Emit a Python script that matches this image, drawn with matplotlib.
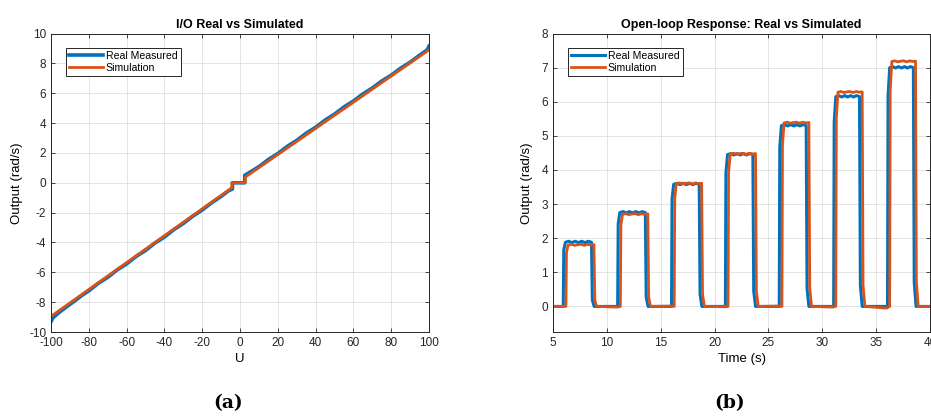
import numpy as np
import matplotlib.pyplot as plt

plt.rcParams['font.family'] = ['Liberation Sans', 'DejaVu Sans']
plt.rcParams['axes.unicode_minus'] = False

blue = '#0072BD'
orange = '#D95319'

# (a) 输入-输出特性
real_u = [-100, -99, -96, -92, -88, -84, -80, -75, -70, -65, -60, -55, -50, -45,
          -40, -35, -30, -25, -20, -15, -10, -6, -4, -4, 2.5, 2.5, 6, 10, 15, 20,
          25, 30, 35, 40, 45, 50, 55, 60, 65, 70, 75, 80, 85, 90, 95, 99, 100]
real_y = [-9.3, -9.05, -8.72, -8.33, -7.97, -7.58, -7.24, -6.74, -6.34, -5.84,
          -5.44, -4.94, -4.54, -4.04, -3.64, -3.14, -2.73, -2.24, -1.83, -1.34,
          -0.92, -0.53, -0.42, 0, 0, 0.5, 0.77, 1.08, 1.56, 1.96, 2.44, 2.84,
          3.32, 3.72, 4.2, 4.6, 5.08, 5.48, 5.95, 6.35, 6.82, 7.21, 7.68, 8.08,
          8.55, 8.9, 9.15]
sim_u = [-100, -4.3, -4.3, 2.8, 2.8, 100]
sim_y = [-8.95, -0.33, 0, 0, 0.38, 8.9]

# (b) 开环阶跃响应
t_on_real = [5.95, 11.0, 16.0, 21.0, 26.0, 31.05, 36.05]
t_off_real = [8.57, 13.57, 18.57, 23.55, 28.5, 33.45, 38.45]
level_real = [1.88, 2.75, 3.58, 4.45, 5.3, 6.15, 7.0]
t_on_sim = [6.2, 11.25, 16.25, 21.25, 26.25, 31.25, 36.25]
t_off_sim = [8.8, 13.8, 18.8, 23.8, 28.75, 33.7, 38.65]
level_sim = [1.8, 2.7, 3.6, 4.47, 5.38, 6.28, 7.18]
# 平台上的波动
ripple_real = [0.0, 0.03, -0.01, 0.03, -0.01, 0.03, -0.01, 0.03, 0.0]
ripple_sim = [0.0, 0.02, -0.01, 0.01, 0.02, -0.01, 0.02, 0.0, 0.01]
base_sim = [0.0, -0.02, 0.01, -0.01, 0.01, -0.02, -0.05, 0.0]


def pulse_train(t_on, t_off, level, ripple, base):
    t = [5.0]
    y = [0.0]
    for k in range(len(t_on)):
        t += [t_on[k] - 0.3, t_on[k], t_on[k] + 0.05]
        y += [base[k], 0.0, 0.88 * level[k]]
        tt = np.linspace(t_on[k] + 0.2, t_off[k], len(ripple))
        t += list(tt)
        y += [level[k] + r for r in ripple]
        t += [t_off[k] + 0.08, t_off[k] + 0.25]
        y += [0.1 * level[k], 0.0]
    t += [40.0]
    y += [base[-1]]
    return t, y


t_real, y_real = pulse_train(t_on_real, t_off_real, level_real, ripple_real, [0.0] * 8)
t_sim, y_sim = pulse_train(t_on_sim, t_off_sim, level_sim, ripple_sim, base_sim)

fig = plt.figure(figsize=(9.31, 4.16), dpi=100)
ax1 = fig.add_axes([0.0548, 0.2019, 0.406, 0.7175])
ax2 = fig.add_axes([0.594, 0.2019, 0.405, 0.7175])

ax1.plot(real_u, real_y, color=blue, lw=2.6, label='Real Measured')
ax1.plot(sim_u, sim_y, color=orange, lw=2.0, label='Simulation')
ax1.set_xlim(-100, 100)
ax1.set_ylim(-10, 10)
ax1.set_xticks(range(-100, 101, 20))
ax1.set_yticks(range(-10, 11, 2))
ax1.set_xlabel('U', fontsize=9.5, labelpad=3)
ax1.set_ylabel('Output (rad/s)', fontsize=9.5, labelpad=4)
ax1.set_title('I/O Real vs Simulated', fontsize=9, fontweight='bold', pad=4)

ax2.plot(t_real, y_real, color=blue, lw=2.2, label='Real Measured')
ax2.plot(t_sim, y_sim, color=orange, lw=2.0, label='Simulation')
ax2.set_xlim(5, 40)
ax2.set_ylim(-0.75, 8)
ax2.set_xticks(range(5, 41, 5))
ax2.set_yticks(range(0, 9))
ax2.set_xlabel('Time (s)', fontsize=9.5, labelpad=3)
ax2.set_ylabel('Output (rad/s)', fontsize=9.5, labelpad=6)
ax2.set_title('Open-loop Response: Real vs Simulated', fontsize=9, fontweight='bold', pad=4)

for ax in (ax1, ax2):
    ax.grid(True, color='#e0e0e0', lw=0.6)
    ax.set_axisbelow(True)
    ax.tick_params(direction='in', length=3, width=0.6, labelsize=8.5,
                   colors='#262626', top=True, right=True, pad=3.5)
    for s in ax.spines.values():
        s.set_color('#262626')
        s.set_linewidth(0.7)
    leg = ax.legend(loc='upper left', fontsize=7.6, frameon=True, fancybox=False,
                    handlelength=3.2, handletextpad=0.3, borderpad=0.3,
                    labelspacing=0.15, bbox_to_anchor=(0.025, 0.97))
    leg.get_frame().set_edgecolor('#262626')
    leg.get_frame().set_linewidth(0.7)
    leg.get_frame().set_alpha(1)

fig.text(0.245, 0.03, '(a)', ha='center', va='center', fontsize=13.5,
         fontweight='bold', family='DejaVu Serif')
fig.text(0.784, 0.03, '(b)', ha='center', va='center', fontsize=13.5,
         fontweight='bold', family='DejaVu Serif')

fig.savefig('out.png', dpi=100)
